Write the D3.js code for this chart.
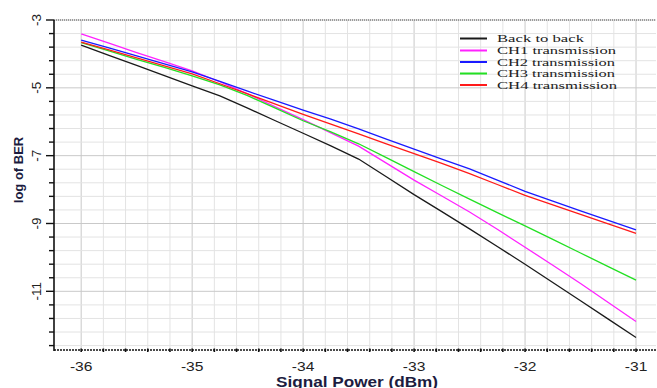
<!DOCTYPE html>
<html><head><meta charset="utf-8">
<script src="https://cdn.jsdelivr.net/npm/d3@7"></script>
<style>html,body{margin:0;padding:0;background:#fff;}svg{display:block;}</style>
</head><body>
<svg id="c" width="657" height="388"></svg>
<script>
const powers = [-36,-35.75,-35.5,-35.25,-35,-34.75,-34.5,-34.25,-34,-33.75,-33.5,-33.25,-33,-32.75,-32.5,-32.25,-32,-31.75,-31.5,-31.25,-31];
const backToBack = [-3.74,-4.04,-4.34,-4.64,-4.94,-5.24,-5.60,-5.97,-6.34,-6.71,-7.10,-7.62,-8.15,-8.65,-9.16,-9.68,-10.20,-10.74,-11.28,-11.82,-12.36];
const ch1 = [-3.41,-3.68,-3.96,-4.23,-4.50,-4.82,-5.18,-5.56,-5.94,-6.33,-6.72,-7.22,-7.72,-8.19,-8.66,-9.17,-9.70,-10.23,-10.77,-11.33,-11.89];
const ch2 = [-3.59,-3.82,-4.06,-4.29,-4.53,-4.81,-5.10,-5.38,-5.66,-5.92,-6.21,-6.51,-6.81,-7.10,-7.39,-7.72,-8.05,-8.34,-8.63,-8.91,-9.19];
const ch3 = [-3.67,-3.91,-4.16,-4.40,-4.65,-4.91,-5.23,-5.60,-5.97,-6.30,-6.65,-7.06,-7.47,-7.88,-8.28,-8.68,-9.07,-9.47,-9.87,-10.27,-10.67];
const ch4 = [-3.65,-3.88,-4.12,-4.35,-4.59,-4.88,-5.18,-5.48,-5.78,-6.07,-6.36,-6.65,-6.94,-7.23,-7.53,-7.85,-8.17,-8.45,-8.73,-9.01,-9.29];
const seriesNames = ["Back to back","CH1 transmission","CH2 transmission","CH3 transmission","CH4 transmission"];
const seriesColors = ["#1a1a1a","#ff22ff","#1a1aff","#22e022","#ff1a1a"];
const xTickLabels = [-36,-35,-34,-33,-32,-31];
const yTickLabels = [-3,-5,-7,-9,-11];

const allSeries = [backToBack, ch1, ch2, ch3, ch4];
const svg = d3.select("#c");
const L = 54, R = 656, T = 20, B = 350;
const x = d3.scaleLinear().domain([-36.245, -30.82]).range([L, R]);
const y = d3.scaleLinear().domain([-12.73, -3]).range([B, T]);

// grid
const g = svg.append("g");
const xMinor = d3.range(0, 28).map(i => +(-36 + i*0.2).toFixed(2));
const yMinor = d3.range(0, 25).map(i => +(-3 - i*0.4).toFixed(2));
g.selectAll("line.vx").data(xMinor).enter().append("line")
  .attr("x1", d => x(d)).attr("x2", d => x(d)).attr("y1", T).attr("y2", B)
  .attr("stroke", d => Math.abs(d - Math.round(d)) < 1e-6 ? "#c9c9c9" : "#e3e3e3").attr("stroke-width", 1);
g.selectAll("line.hy").data(yMinor).enter().append("line")
  .attr("x1", L).attr("x2", R).attr("y1", d => y(d)).attr("y2", d => y(d))
  .attr("stroke", d => yTickLabels.includes(d) ? "#c9c9c9" : "#e3e3e3").attr("stroke-width", 1);

// top dotted border
svg.append("line").attr("x1", L).attr("x2", R).attr("y1", T).attr("y2", T)
  .attr("stroke", "#555").attr("stroke-width", 1.2).attr("stroke-dasharray", "1,1");

// series lines
const line = d3.line().x((d, i) => x(powers[i])).y(d => y(d));
allSeries.forEach((s, k) => {
  svg.append("path").datum(s).attr("d", line).attr("fill", "none")
    .attr("stroke", seriesColors[k]).attr("stroke-width", 1.3);
});

// y axis
svg.append("line").attr("x1", L).attr("x2", L).attr("y1", T).attr("y2", B + 1)
  .attr("stroke", "#111").attr("stroke-width", 1.6);
svg.selectAll("line.yt").data(yMinor).enter().append("line")
  .attr("x1", d => yTickLabels.includes(d) ? L - 8 : L - 5).attr("x2", L)
  .attr("y1", d => y(d)).attr("y2", d => y(d)).attr("stroke", "#111").attr("stroke-width", 1.4);
svg.selectAll("text.yl").data(yTickLabels).enter().append("text")
  .attr("transform", d => `translate(41,${y(d)}) rotate(-90)`)
  .attr("text-anchor", "middle").attr("font-family", "Liberation Sans, Arial, sans-serif")
  .attr("font-size", 13.5).attr("fill", "#222").text(d => d);

// x axis
svg.append("line").attr("x1", L).attr("x2", R).attr("y1", B).attr("y2", B)
  .attr("stroke", "#111").attr("stroke-width", 1.6).attr("stroke-dasharray", "2,1");
svg.selectAll("line.xt").data(xMinor).enter().append("line")
  .attr("x1", d => x(d)).attr("x2", d => x(d)).attr("y1", B - 1.5).attr("y2", B + 2)
  .attr("stroke", "#111").attr("stroke-width", 1.6);
svg.selectAll("text.xl").data(xTickLabels).enter().append("text")
  .attr("transform", d => `translate(${x(d)},370.5) scale(1.2,1)`)
  .attr("text-anchor", "middle").attr("font-family", "Liberation Sans, Arial, sans-serif")
  .attr("font-size", 13).attr("fill", "#222").text(d => d);

// axis titles
svg.append("text").attr("x", 357).attr("y", 386.5).attr("text-anchor", "middle")
  .attr("font-family", "Liberation Sans, Arial, sans-serif").attr("font-weight", "bold")
  .attr("font-size", 14).attr("fill", "#1c1c40")
  .attr("textLength", 162).attr("lengthAdjust", "spacingAndGlyphs").text("Signal Power (dBm)");
svg.append("text").attr("transform", "translate(23,170) rotate(-90)").attr("text-anchor", "middle")
  .attr("font-family", "Liberation Sans, Arial, sans-serif").attr("font-weight", "bold")
  .attr("font-size", 13).attr("fill", "#1c1c40").text("log of BER");

// legend
const legY = [38.5, 50.5, 62, 73.5, 85];
const legW = [87, 119, 118, 118, 120];
const lg = svg.append("g");
seriesNames.forEach((n, k) => {
  lg.append("line").attr("x1", 460).attr("x2", 487).attr("y1", legY[k]).attr("y2", legY[k])
    .attr("stroke", seriesColors[k]).attr("stroke-width", 2);
  lg.append("text").attr("x", 497).attr("y", legY[k] + 3.8)
    .attr("font-family", "Liberation Serif, Times New Roman, serif").attr("font-size", 11)
    .attr("fill", "#222").attr("textLength", legW[k]).attr("lengthAdjust", "spacingAndGlyphs").text(n);
});
</script>
</body></html>
